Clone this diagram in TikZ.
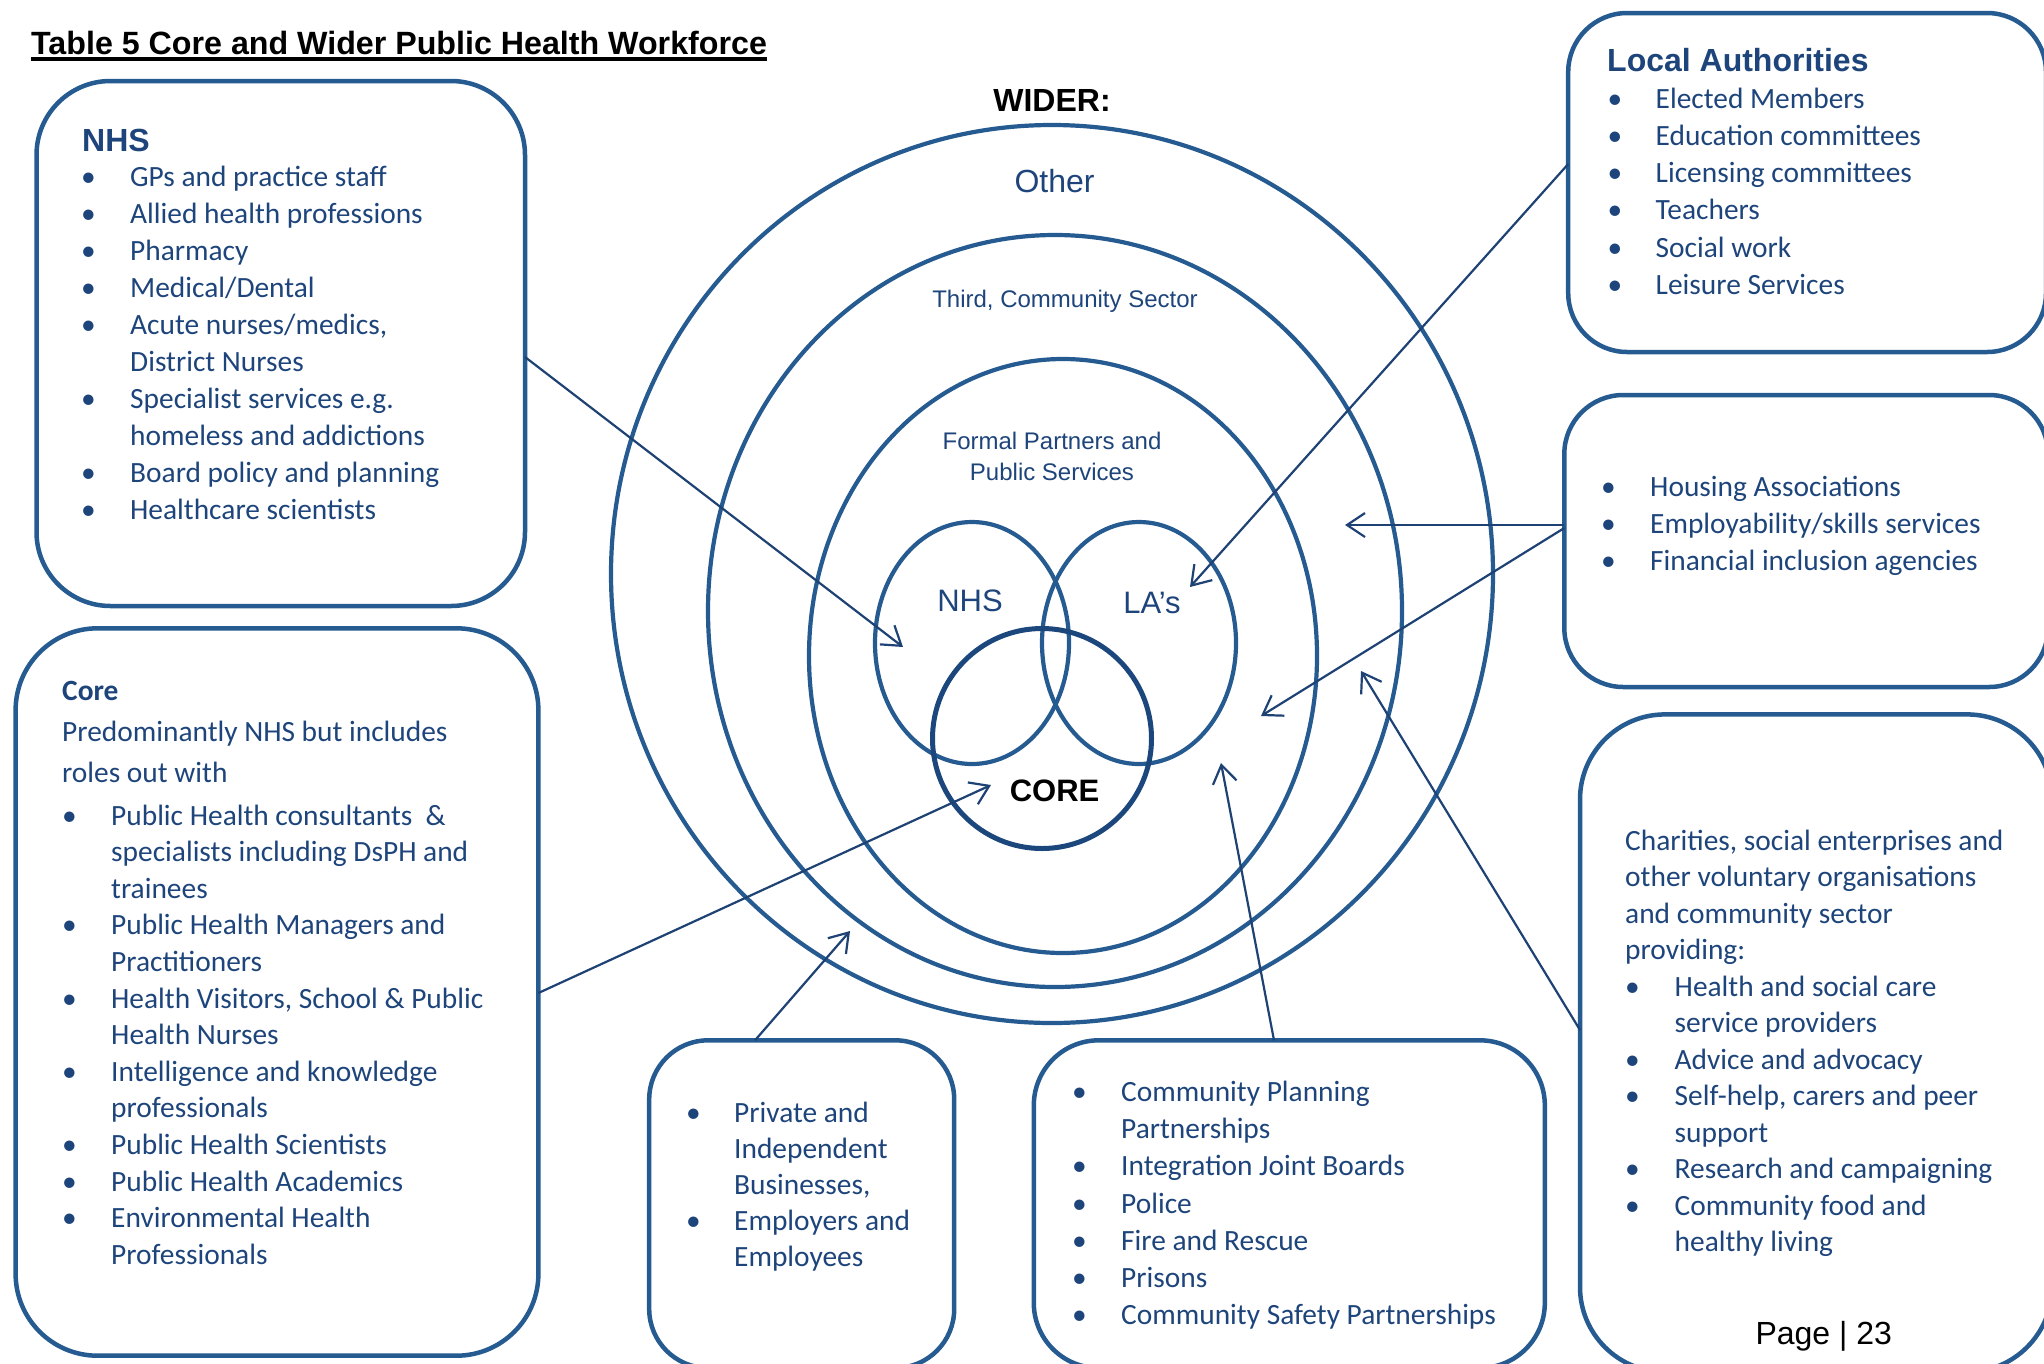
\documentclass[tikz,border=0pt]{standalone}
\usepackage{fontspec}
\setmainfont{Carlito}
\newfontfamily\arialf{Liberation Sans}
\usetikzlibrary{shapes.geometric,arrows.meta}
\definecolor{bordblue}{HTML}{255B90}
\definecolor{txtblue}{HTML}{1E457B}
\definecolor{arrblue}{HTML}{1E4273}
\definecolor{coreblue}{HTML}{1B477C}
\newcommand{\blt}{\textbullet}
\begin{document}
\begin{tikzpicture}[x=1pt,y=-1pt,
 box/.style={draw=bordblue, line width=4.5pt, outer sep=0pt, inner sep=0pt},
 ring/.style={ellipse, draw=bordblue, line width=4.2pt, inner sep=0pt, outer sep=0pt},
 txt/.style={inner sep=0pt, text=txtblue, anchor=base west},
 body/.style={font=\fontsize{29.4}{37}\selectfont},
 head/.style={inner sep=0pt, text=txtblue, anchor=base west, font=\arialf\bfseries\fontsize{32}{38}\selectfont},
 lbl/.style={inner sep=0pt, anchor=base, text=txtblue},
 arr/.style={draw=arrblue, line width=2.2pt, -{Straight Barb[length=18pt,width=24pt]}}
]
\useasboundingbox (0,0) rectangle (2044,1363);
\clip (0,0) rectangle (2044,1363);
\fill[white] (0,0) rectangle (2044,1363);

% title
\node[anchor=base west, inner sep=0pt, font=\arialf\bfseries\fontsize{32.2}{38}\selectfont] (title) at (31,54) {Table 5 Core and Wider Public Health Workforce};
\draw[line width=3.5pt] ([yshift=-5pt]title.base west) -- ([yshift=-5pt]title.base east);

% rings
\node[ring, minimum width=882pt, minimum height=898pt] (other) at (1052,574) {};
\node[ring, minimum width=694pt, minimum height=752pt] (third) at (1055,611) {};
\node[ring, minimum width=508pt, minimum height=594pt] (formal) at (1063,656) {};
\node[ring, minimum width=194pt, minimum height=242pt] (nhsring) at (972,643) {};
\node[ring, minimum width=194pt, minimum height=242pt] (laring) at (1139,643) {};
\node[ring, draw=coreblue, line width=5pt, minimum width=219pt, minimum height=220pt] (corering) at (1042,738.5) {};

\node[lbl, text=black, font=\arialf\bfseries\fontsize{32}{38}\selectfont] (wider) at (1052,111.5) {WIDER:};
\node[lbl, font=\arialf\fontsize{32}{38}\selectfont] (otherlbl) at (1054.6,192) {Other};
\node[lbl, font=\arialf\fontsize{24}{31}\selectfont] (thirdlbl) at (1065,307) {Third, Community Sector};
\node[lbl, font=\arialf\fontsize{24}{31}\selectfont] (formallbl1) at (1052,449) {Formal Partners and};
\node[lbl, font=\arialf\fontsize{24}{31}\selectfont] (formallbl2) at (1052,480.5) {Public Services};
\node[lbl, font=\arialf\fontsize{31}{37}\selectfont] (nhslbl) at (970,611) {NHS};
\node[lbl, font=\arialf\fontsize{31}{37}\selectfont] (lalbl) at (1152,613) {LA’s};
\node[lbl, text=black, font=\arialf\bfseries\fontsize{31}{37}\selectfont] (corelbl) at (1054.6,801) {CORE};

% boxes
\node[box, rounded corners=74pt, minimum width=488.5pt, minimum height=525pt] (nhsbox) at (280.75,343.5) {};
\node[box, rounded corners=82pt, minimum width=522.8pt, minimum height=727.4pt] (corebox) at (277,992) {};
\node[box, rounded corners=59pt, minimum width=477.8pt, minimum height=339pt] (labox) at (1807.1,182.5) {};
\node[box, rounded corners=59pt, minimum width=483.7pt, minimum height=292pt] (hbox) at (1806.15,541) {};
\node[box, rounded corners=85pt, minimum width=472pt, minimum height=657.6pt] (chbox) at (1816,1043.2) {};
\node[box, rounded corners=59pt, minimum width=305pt, minimum height=327.7pt] (pvbox) at (801.7,1204.15) {};
\node[box, rounded corners=65pt, minimum width=511pt, minimum height=327.7pt] (cpbox) at (1289.3,1204.15) {};

% arrows
\coordinate (tA) at (903,647);
\coordinate (tB) at (1190,587);
\coordinate (tC) at (1345,525);
\coordinate (tD) at (1261,716);
\coordinate (tE) at (1361,671);
\coordinate (tF) at (1221,763);
\coordinate (tG) at (850,931);
\coordinate (tH) at (991,785);
\draw[arr] (nhsbox.east |- 0,357) -- (tA);
\draw[arr] (labox.west |- 0,164) -- (tB);
\draw[arr] (hbox.west |- 0,525) -- (tC);
\draw[arr] (hbox.west |- 0,528) -- (tD);
\draw[arr] (chbox.west |- 0,1030) -- (tE);
\draw[arr] (cpbox.north -| 1274,0) -- (tF);
\draw[arr] (pvbox.north -| 755,0) -- (tG);
\draw[arr] (corebox.east |- 0,993) -- (tH);

% NHS box text
\node[head] (nhshead) at (82,151) {NHS};
\node[txt, body] (nhslist) at (81,186) {\begin{tabular}[t]{@{}p{49pt}@{}l@{}}
\blt & GPs and practice staff\\
\blt & Allied health professions\\
\blt & Pharmacy\\
\blt & Medical/Dental\\
\blt & Acute nurses/medics,\\
 & District Nurses\\
\blt & Specialist services e.g.\\
 & homeless and addictions\\
\blt & Board policy and planning\\
\blt & Healthcare scientists
\end{tabular}};

% Core box text
\node[txt, font=\fontsize{29.4}{36.6}\selectfont] (corelist) at (62,700) {\begin{tabular}[t]{@{}p{49pt}@{}l@{}}
\multicolumn{2}{@{}l@{}}{\bfseries Core}\\[5pt]
\multicolumn{2}{@{}l@{}}{Predominantly NHS but includes}\\[3.8pt]
\multicolumn{2}{@{}l@{}}{roles out with}\\[6.5pt]
\blt & Public Health consultants~ \&\\
 & specialists including DsPH and\\
 & trainees\\
\blt & Public Health Managers and\\
 & Practitioners\\
\blt & Health Visitors, School \& Public\\
 & Health Nurses\\
\blt & Intelligence and knowledge\\
 & professionals\\
\blt & Public Health Scientists\\
\blt & Public Health Academics\\
\blt & Environmental Health\\
 & Professionals
\end{tabular}};

% Local authorities text
\node[head] (lahead) at (1607,71.5) {Local Authorities};
\node[txt, font=\fontsize{29.4}{37.3}\selectfont] (lalist) at (1607.5,108) {\begin{tabular}[t]{@{}p{48pt}@{}l@{}}
\blt & Elected Members\\
\blt & Education committees\\
\blt & Licensing committees\\
\blt & Teachers\\
\blt & Social work\\
\blt & Leisure Services
\end{tabular}};

% Housing text
\node[txt, body] (hlist) at (1601,496.5) {\begin{tabular}[t]{@{}p{49pt}@{}l@{}}
\blt & Housing Associations\\
\blt & Employability/skills services\\
\blt & Financial inclusion agencies
\end{tabular}};

% Charities text
\node[txt, font=\fontsize{29.4}{36.5}\selectfont] (chlist) at (1625,850) {\begin{tabular}[t]{@{}p{49.5pt}@{}l@{}}
\multicolumn{2}{@{}l@{}}{Charities, social enterprises and}\\
\multicolumn{2}{@{}l@{}}{other voluntary organisations}\\
\multicolumn{2}{@{}l@{}}{and community sector}\\
\multicolumn{2}{@{}l@{}}{providing:}\\
\blt & Health and social care\\
 & service providers\\
\blt & Advice and advocacy\\
\blt & Self-help, carers and peer\\
 & support\\
\blt & Research and campaigning\\
\blt & Community food and\\
 & healthy living
\end{tabular}};
\node[anchor=base, inner sep=0pt, font=\arialf\fontsize{32}{38}\selectfont] (page) at (1823.7,1344) {Page | 23};

% Private text
\node[txt, font=\fontsize{29.4}{36.2}\selectfont] (pvlist) at (686,1122) {\begin{tabular}[t]{@{}p{48pt}@{}l@{}}
\blt & Private and\\
 & Independent\\
 & Businesses,\\
\blt & Employers and\\
 & Employees
\end{tabular}};

% Community planning text
\node[txt, font=\fontsize{29.4}{37.2}\selectfont] (cplist) at (1072,1101.5) {\begin{tabular}[t]{@{}p{49pt}@{}l@{}}
\blt & Community Planning\\
 & Partnerships\\
\blt & Integration Joint Boards\\
\blt & Police\\
\blt & Fire and Rescue\\
\blt & Prisons\\
\blt & Community Safety Partnerships
\end{tabular}};
\end{tikzpicture}
\end{document}
